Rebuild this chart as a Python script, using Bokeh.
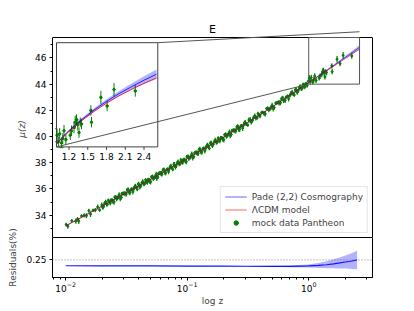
import math
from bokeh.plotting import figure
from bokeh.models import (Range1d, LinearScale, Span, Arrow, Legend, LegendItem, ColumnDataSource,
                          SingleIntervalTicker, FixedTicker, LogTicker, Whisker, TeeHead, Label,
                          LinearAxis)
from bokeh.layouts import column
from bokeh.embed import file_html
from bokeh.resources import INLINE
from bokeh.core.properties import value

FONT = "DejaVu Sans"

# ---------------- data ----------------
z_obs = [0.0101, 0.0104, 0.0112, 0.0121, 0.0125, 0.0128, 0.0135, 0.0142, 0.0148, 0.0155,
         0.016, 0.0168, 0.0175, 0.0183, 0.019, 0.0198, 0.0205, 0.0213, 0.022, 0.0228,
         0.0236, 0.0245, 0.0253, 0.0262, 0.027, 0.0281, 0.029, 0.0302, 0.0315, 0.0326,
         0.0338, 0.035, 0.0362, 0.0375, 0.0388, 0.04, 0.0415, 0.043, 0.0445, 0.046,
         0.0476, 0.049, 0.0508, 0.0525, 0.0545, 0.0562, 0.058, 0.06, 0.062, 0.0642,
         0.0665, 0.0688, 0.071, 0.0735, 0.076, 0.0785, 0.081, 0.084, 0.087, 0.09,
         0.093, 0.0965, 0.0995, 0.103, 0.107, 0.111, 0.115, 0.119, 0.123, 0.127,
         0.132, 0.137, 0.142, 0.147, 0.152, 0.158, 0.164, 0.17, 0.176, 0.182,
         0.189, 0.196, 0.203, 0.21, 0.218, 0.226, 0.234, 0.242, 0.251, 0.26,
         0.27, 0.28, 0.29, 0.30, 0.315, 0.33, 0.345, 0.36, 0.375, 0.39,
         0.41, 0.43, 0.45, 0.47, 0.49, 0.51, 0.535, 0.56, 0.585, 0.61,
         0.64, 0.67, 0.70, 0.73, 0.76, 0.79, 0.82, 0.85, 0.88, 0.91,
         0.94, 0.97, 0.99,
         1.01, 1.03, 1.05, 1.08, 1.10, 1.12, 1.15, 1.22, 1.24, 1.28,
         1.30, 1.32, 1.34, 1.36, 1.38, 1.40, 1.55, 1.56, 1.71, 1.81,
         1.92, 2.26,
         0.0202, 0.0209, 0.0217, 0.0224, 0.0233, 0.0241, 0.025, 0.0258, 0.0267, 0.0275,
         0.0287, 0.0296, 0.0308, 0.0321, 0.0333, 0.0345, 0.0357, 0.0369, 0.0383, 0.0396,
         0.0408, 0.0423, 0.0439, 0.0454, 0.0469, 0.0486, 0.05, 0.0518, 0.0536, 0.0556,
         0.0573, 0.0592, 0.0612, 0.0632, 0.0655, 0.0678, 0.0702, 0.0724, 0.075, 0.0775,
         0.0801, 0.0826, 0.0857, 0.0887, 0.0918, 0.0949, 0.0984, 0.1015, 0.1051, 0.1091,
         0.1132, 0.1173, 0.1214, 0.1255, 0.1295, 0.1346, 0.1397, 0.1448, 0.1499, 0.155,
         0.1612, 0.1673, 0.1734, 0.1795, 0.1856, 0.1928, 0.2, 0.2071, 0.2142, 0.2224,
         0.2305, 0.2387, 0.2468, 0.256, 0.2652, 0.2754, 0.2856, 0.2958, 0.306, 0.3213,
         0.3366, 0.3519, 0.3672, 0.3825, 0.3978, 0.4182, 0.4386, 0.459, 0.4794, 0.4998,
         0.5202, 0.5457, 0.5712, 0.5967, 0.6222, 0.6528, 0.6834, 0.714, 0.7446, 0.7752,
         0.8058, 0.8364, 0.867, 0.8976, 0.9282, 0.9588]
mu_obs = [33.28, 33.14, 33.57, 33.54, 33.69, 33.54, 33.94, 33.98, 33.95, 34.33,
          34.07, 34.37, 34.38, 34.63, 34.39, 34.77, 34.68, 35.00, 34.80, 35.00,
          35.14, 35.03, 35.37, 35.25, 35.38, 35.27, 35.63, 35.65, 35.61, 35.97,
          35.72, 36.00, 35.99, 36.22, 35.97, 36.33, 36.25, 36.56, 36.37, 36.56,
          36.71, 36.57, 36.92, 36.80, 36.95, 36.82, 37.18, 37.19, 37.13, 37.49,
          37.24, 37.52, 37.51, 37.74, 37.49, 37.85, 37.76, 38.08, 37.89, 38.09,
          38.23, 38.12, 38.46, 38.33, 38.49, 38.38, 38.75, 38.76, 38.71, 39.06,
          38.82, 39.11, 39.12, 39.35, 39.10, 39.48, 39.41, 39.73, 39.54, 39.74,
          39.90, 39.79, 40.14, 40.03, 40.19, 40.08, 40.45, 40.46, 40.42, 40.79,
          40.55, 40.84, 40.85, 41.09, 40.88, 41.29, 41.24, 41.58, 41.41, 41.63,
          41.83, 41.75, 42.14, 42.05, 42.23, 42.13, 42.55, 42.60, 42.58, 42.97,
          42.77, 43.09, 43.13, 43.39, 43.17, 43.56, 43.50, 43.83, 43.65, 43.86,
          44.01, 43.90, 44.22,
          44.45, 44.20, 44.50, 44.15, 44.32, 44.62, 44.28, 44.45, 44.62, 44.75,
          44.95, 45.05, 44.85, 44.55, 44.95, 44.88, 45.40, 44.95, 45.90, 45.57,
          46.20, 46.15,
          34.57, 34.90, 34.85, 35.12, 34.93, 35.16, 35.00, 35.38, 35.28, 35.55,
          35.35, 35.67, 35.63, 35.92, 35.73, 35.96, 35.79, 36.18, 36.08, 36.36,
          36.13, 36.46, 36.41, 36.69, 36.50, 36.72, 36.55, 36.94, 36.83, 37.12,
          36.90, 37.22, 37.17, 37.44, 37.25, 37.48, 37.32, 37.70, 37.60, 37.87,
          37.66, 37.98, 37.93, 38.21, 38.02, 38.25, 38.09, 38.48, 38.37, 38.66,
          38.45, 38.79, 38.74, 39.01, 38.82, 39.06, 38.91, 39.30, 39.20, 39.48,
          39.29, 39.62, 39.58, 39.87, 39.67, 39.91, 39.76, 40.16, 40.06, 40.35,
          40.15, 40.48, 40.44, 40.73, 40.54, 40.79, 40.64, 41.04, 40.94, 41.26,
          41.09, 41.46, 41.43, 41.74, 41.57, 41.84, 41.73, 42.15, 42.09, 42.39,
          42.21, 42.58, 42.57, 42.89, 42.73, 43.01, 42.89, 43.31, 43.24, 43.55,
          43.36, 43.71, 43.68, 43.97, 43.79, 44.03]
err_obs = [0.14, 0.18, 0.12, 0.20, 0.16, 0.22, 0.13, 0.17, 0.19, 0.15,
           0.21, 0.12, 0.16, 0.18, 0.14, 0.20, 0.15, 0.17, 0.13, 0.19,
           0.14, 0.18, 0.12, 0.20, 0.16, 0.22, 0.13, 0.17, 0.19, 0.15,
           0.21, 0.12, 0.16, 0.18, 0.14, 0.20, 0.15, 0.17, 0.13, 0.19,
           0.14, 0.18, 0.12, 0.20, 0.16, 0.22, 0.13, 0.17, 0.19, 0.15,
           0.21, 0.12, 0.16, 0.18, 0.14, 0.20, 0.15, 0.17, 0.13, 0.19,
           0.14, 0.18, 0.12, 0.20, 0.16, 0.22, 0.13, 0.17, 0.19, 0.15,
           0.21, 0.12, 0.16, 0.18, 0.14, 0.20, 0.15, 0.17, 0.13, 0.19,
           0.14, 0.18, 0.12, 0.20, 0.16, 0.22, 0.13, 0.17, 0.19, 0.15,
           0.21, 0.12, 0.16, 0.18, 0.14, 0.20, 0.15, 0.17, 0.13, 0.19,
           0.14, 0.18, 0.12, 0.20, 0.16, 0.22, 0.13, 0.17, 0.19, 0.15,
           0.21, 0.12, 0.16, 0.18, 0.14, 0.20, 0.15, 0.17, 0.13, 0.19,
           0.14, 0.18, 0.12,
           0.25, 0.20, 0.22, 0.18, 0.20, 0.22, 0.20, 0.18, 0.20, 0.22,
           0.25, 0.20, 0.22, 0.20, 0.18, 0.20, 0.20, 0.20, 0.25, 0.20,
           0.25, 0.22,
           0.17, 0.13, 0.20, 0.15, 0.18, 0.12, 0.21, 0.16, 0.14, 0.19,
           0.17, 0.13, 0.20, 0.15, 0.18, 0.12, 0.21, 0.16, 0.14, 0.19,
           0.17, 0.13, 0.20, 0.15, 0.18, 0.12, 0.21, 0.16, 0.14, 0.19,
           0.17, 0.13, 0.20, 0.15, 0.18, 0.12, 0.21, 0.16, 0.14, 0.19,
           0.17, 0.13, 0.20, 0.15, 0.18, 0.12, 0.21, 0.16, 0.14, 0.19,
           0.17, 0.13, 0.20, 0.15, 0.18, 0.12, 0.21, 0.16, 0.14, 0.19,
           0.17, 0.13, 0.20, 0.15, 0.18, 0.12, 0.21, 0.16, 0.14, 0.19,
           0.17, 0.13, 0.20, 0.15, 0.18, 0.12, 0.21, 0.16, 0.14, 0.19,
           0.17, 0.13, 0.20, 0.15, 0.18, 0.12, 0.21, 0.16, 0.14, 0.19,
           0.17, 0.13, 0.20, 0.15, 0.18, 0.12, 0.21, 0.16, 0.14, 0.19,
           0.17, 0.13, 0.20, 0.15, 0.18, 0.12]

z_model = [0.01, 0.015, 0.02, 0.03, 0.05, 0.07, 0.1, 0.15, 0.2, 0.3, 0.4, 0.5, 0.6,
           0.7, 0.8, 0.9, 1.0, 1.1, 1.2, 1.4, 1.6, 1.8, 2.0, 2.2, 2.4, 2.6]
mu_lcdm = [33.18, 34.06, 34.70, 35.59, 36.74, 37.50, 38.32, 39.27, 39.96, 40.96, 41.68, 42.26, 42.74,
           43.15, 43.50, 43.82, 44.10, 44.36, 44.59, 45.00, 45.36, 45.68, 45.96, 46.21, 46.44, 46.65]
mu_pade = [33.18, 34.06, 34.70, 35.59, 36.74, 37.50, 38.32, 39.27, 39.96, 40.96, 41.68, 42.26, 42.745,
           43.16, 43.51, 43.835, 44.12, 44.385, 44.62, 45.04, 45.415, 45.75, 46.045, 46.31, 46.56, 46.79]
pade_err = [0.01, 0.01, 0.01, 0.01, 0.01, 0.01, 0.01, 0.01, 0.01, 0.01, 0.012, 0.015, 0.018,
            0.02, 0.023, 0.026, 0.03, 0.035, 0.04, 0.05, 0.065, 0.08, 0.10, 0.12, 0.15, 0.18]

z_res = [0.01, 0.02, 0.05, 0.1, 0.2, 0.3, 0.5, 0.7, 1.0, 1.2, 1.4, 1.6, 1.8, 2.0, 2.2, 2.4, 2.5]
res = [0.2442, 0.2441, 0.2440, 0.2439, 0.2438, 0.2437, 0.2436, 0.2436, 0.2440, 0.2445, 0.2452,
       0.2461, 0.2470, 0.2479, 0.2487, 0.2495, 0.2500]
res_err = [0.0001, 0.0001, 0.0001, 0.0002, 0.0002, 0.0003, 0.0005, 0.0008, 0.0015, 0.0025, 0.0035,
           0.0045, 0.0055, 0.0065, 0.0075, 0.0087, 0.0093]

MAIN_YTICK_STEP = 2
RES_TICKS = [0.25]
RES_REF = 0.25
INSET_XTICKS = [1.2, 1.5, 1.8, 2.1, 2.4]
INSET_XTICK_LABELS = ["1.2", "1.5", "1.8", "2.1", "2.4"]
TITLE = "E"

# ---------------- layout constants ----------------
X_LIM = (10 ** -2.109, 10 ** 0.525)
Y_LIM = (32.29, 47.56)            # the axes box of the main panel
RES_LIM = (0.2325, 0.2723)
INSET_XLIM = (1.0, 2.62)
INSET_YLIM = (44.0, 48.0)
INSET_BOX = (0.0125, 0.453, 0.3165, 0.521)  # left, bottom, width, height (axes fraction)

W = 414
AX_H = 200          # height of the main axes box, px
TOP_PAD = 17        # frame area kept above the axes box (title + connector), px
OVERLAP = 30
RES_FRAME_H = 40
BLUE = "#0000ff"
RED = "#ff0000"
GREEN = "#008000"
GRAY = "#555555"

PX = (Y_LIM[1] - Y_LIM[0]) / AX_H    # data units per px in the main panel
Y_TOP = Y_LIM[1] + TOP_PAD * PX


def style_axis(ax):
    ax.major_label_text_font = FONT
    ax.major_label_text_font_size = "9px"
    ax.major_label_text_color = "black"
    ax.axis_label_text_font = FONT
    ax.axis_label_text_font_size = "9px"
    ax.axis_label_text_font_style = "normal"
    ax.axis_line_color = "black"
    ax.major_tick_line_color = "black"
    ax.minor_tick_line_color = "black"
    ax.major_tick_in = 0
    ax.major_tick_out = 3
    ax.minor_tick_in = 0
    ax.minor_tick_out = 2
    ax.major_label_standoff = 3
    ax.axis_label_standoff = 5


# ---------------- main panel ----------------
p = figure(width=W, height=37 + AX_H - TOP_PAD + TOP_PAD, x_axis_type="log", x_axis_location=None,
           x_range=Range1d(*X_LIM), y_range=Range1d(Y_LIM[0], Y_TOP),
           output_backend="svg", toolbar_location=None,
           min_border_left=52, min_border_right=42, min_border_top=37 - TOP_PAD, min_border_bottom=0)
p.grid.visible = False
p.outline_line_color = None
p.yaxis.ticker = SingleIntervalTicker(interval=MAIN_YTICK_STEP, num_minor_ticks=2)
p.yaxis.bounds = Y_LIM
p.yaxis.axis_label = "μ(z)"
style_axis(p.yaxis[0])
p.yaxis.axis_label_text_font_style = "italic"
right_ax = LinearAxis(bounds=Y_LIM, ticker=FixedTicker(ticks=[], minor_ticks=[]),
                      axis_line_color="black", major_tick_line_color=None,
                      minor_tick_line_color=None, major_label_text_color=None)
p.add_layout(right_ax, "right")
# top edge of the axes box
p.segment(x0=[X_LIM[0]], y0=[Y_LIM[1]], x1=[X_LIM[1]], y1=[Y_LIM[1]], line_color="black",
          line_width=1)
p.add_layout(Label(x=math.sqrt(X_LIM[0] * X_LIM[1]), y=Y_LIM[1] + 8.5 * PX, text=TITLE,
                   text_align="center", text_baseline="middle", text_font=FONT,
                   text_font_size="11px", text_color="black"))

lo_obs = [m - e for m, e in zip(mu_obs, err_obs)]
hi_obs = [m + e for m, e in zip(mu_obs, err_obs)]
obs = ColumnDataSource(dict(z=z_obs, mu=mu_obs, lo=lo_obs, hi=hi_obs))

p.segment(x0="z", y0="lo", x1="z", y1="hi", source=obs, line_color=GREEN, line_width=1.2)
pts = p.scatter("z", "mu", source=obs, marker="circle", size=2, color=GREEN)

plo = [m - e for m, e in zip(mu_pade, pade_err)]
phi = [m + e for m, e in zip(mu_pade, pade_err)]
mod = ColumnDataSource(dict(z=z_model, lcdm=mu_lcdm, pade=mu_pade, plo=plo, phi=phi))
p.varea(x="z", y1="plo", y2="phi", source=mod, fill_color=BLUE, fill_alpha=0.3)
r_pade = p.line("z", "pade", source=mod, line_color=BLUE, line_alpha=0.6, line_width=1)
r_lcdm = p.line("z", "lcdm", source=mod, line_color=RED, line_alpha=0.6, line_width=1)

# indicator rectangle of the zoomed region (clipped to the axes box)
rect_top = min(INSET_YLIM[1], Y_LIM[1])
p.quad(left=[INSET_XLIM[0]], right=[INSET_XLIM[1]], bottom=[INSET_YLIM[0]], top=[rect_top],
       fill_alpha=0, line_color=GRAY, line_width=1)

# legend-only error-bar icon (placed below the visible range, so only the legend shows it)
r_leg = p.scatter(x=[z_obs[0]], y=[Y_LIM[0] - 100], marker="dash", angle=math.pi / 2, size=10,
                  line_color=GREEN, line_width=1.2)

# ---------------- inset (drawn in its own ranges inside the main frame) ----------------
k = (Y_LIM[1] - Y_LIM[0]) / (Y_TOP - Y_LIM[0])
sx = (INSET_XLIM[1] - INSET_XLIM[0]) / INSET_BOX[2]
sy = (INSET_YLIM[1] - INSET_YLIM[0]) / (INSET_BOX[3] * k)
ix0 = INSET_XLIM[0] - INSET_BOX[0] * sx
iy0 = INSET_YLIM[0] - INSET_BOX[1] * k * sy
p.extra_x_ranges = {"ins": Range1d(ix0, ix0 + sx)}
p.extra_y_ranges = {"ins": Range1d(iy0, iy0 + sy)}
p.extra_x_scales = {"ins": LinearScale()}
p.extra_y_scales = {"ins": LinearScale()}
I = dict(x_range_name="ins", y_range_name="ins")

p.quad(left=[INSET_XLIM[0]], right=[INSET_XLIM[1]], bottom=[INSET_YLIM[0]], top=[INSET_YLIM[1]],
       fill_color="white", line_alpha=0, **I)

keep = [i for i, z in enumerate(z_obs) if z >= INSET_XLIM[0]]
obs_in = ColumnDataSource(dict(z=[z_obs[i] for i in keep], mu=[mu_obs[i] for i in keep],
                               lo=[lo_obs[i] for i in keep], hi=[hi_obs[i] for i in keep]))
p.segment(x0="z", y0="lo", x1="z", y1="hi", source=obs_in, line_color=GREEN, line_width=1, **I)
p.scatter("z", "mu", source=obs_in, marker="circle", size=2.5, color=GREEN, **I)
p.add_layout(Whisker(base="z", lower="lo", upper="hi", source=obs_in, dimension="height",
                     line_color=GREEN, line_width=1,
                     upper_head=TeeHead(size=4, line_color=GREEN, line_width=1),
                     lower_head=TeeHead(size=4, line_color=GREEN, line_width=1), **I))

keep_m = [i for i, z in enumerate(z_model) if z >= INSET_XLIM[0]]
mod_in = ColumnDataSource(dict(z=[z_model[i] for i in keep_m], lcdm=[mu_lcdm[i] for i in keep_m],
                               pade=[mu_pade[i] for i in keep_m], plo=[plo[i] for i in keep_m],
                               phi=[phi[i] for i in keep_m]))
p.varea(x="z", y1="plo", y2="phi", source=mod_in, fill_color=BLUE, fill_alpha=0.3, **I)
p.line("z", "pade", source=mod_in, line_color=BLUE, line_alpha=0.8, line_width=1, **I)
p.line("z", "lcdm", source=mod_in, line_color=RED, line_alpha=0.8, line_width=1, **I)

p.quad(left=[INSET_XLIM[0]], right=[INSET_XLIM[1]], bottom=[INSET_YLIM[0]], top=[INSET_YLIM[1]],
       fill_alpha=0, line_color="#404040", line_width=1, **I)
p.ray(x=INSET_XTICKS, y=[INSET_YLIM[0]] * len(INSET_XTICKS), length=3, length_units="screen",
      angle=-math.pi / 2, line_color="#404040", line_width=1, **I)
p.text(x=INSET_XTICKS, y=[INSET_YLIM[0]] * len(INSET_XTICKS), text=INSET_XTICK_LABELS,
       text_align="center", text_baseline="top", y_offset=6, text_font=value(FONT),
       text_font_size="9px", text_color="black", **I)


# connectors from inset corners to the indicator rectangle
def frac_to_main(fx, fy):
    lx0, lx1 = math.log10(X_LIM[0]), math.log10(X_LIM[1])
    return 10 ** (lx0 + fx * (lx1 - lx0)), Y_LIM[0] + fy * (Y_LIM[1] - Y_LIM[0])


tr = frac_to_main(INSET_BOX[0] + INSET_BOX[2], INSET_BOX[1] + INSET_BOX[3])
bl = frac_to_main(INSET_BOX[0], INSET_BOX[1])
p.add_layout(Arrow(end=None, x_start=tr[0], y_start=tr[1], x_end=INSET_XLIM[1], y_end=INSET_YLIM[1],
                   line_color=GRAY, line_width=1))
p.add_layout(Arrow(end=None, x_start=bl[0], y_start=bl[1], x_end=INSET_XLIM[0], y_end=INSET_YLIM[0],
                   line_color=GRAY, line_width=1))

legend = Legend(items=[LegendItem(label="Pade (2,2) Cosmography", renderers=[r_pade]),
                       LegendItem(label="ΛCDM model", renderers=[r_lcdm]),
                       LegendItem(label="mock data Pantheon", renderers=[r_leg, pts])],
                location="bottom_right")
legend.label_text_font = FONT
legend.label_text_font_size = "9px"
legend.glyph_width = 22
legend.glyph_height = 11
legend.label_height = 11
legend.spacing = 2
legend.padding = 4
legend.margin = 4
legend.label_standoff = 5
legend.border_line_color = "#cccccc"
legend.background_fill_alpha = 0.8
p.add_layout(legend)

# ---------------- residual panel (its transparent top border overlaps the main panel) ----------------
r = figure(width=W, height=OVERLAP + RES_FRAME_H + 34, x_axis_type="log", x_range=p.x_range,
           y_range=Range1d(*RES_LIM), output_backend="svg", toolbar_location=None,
           min_border_left=52, min_border_right=42, min_border_top=OVERLAP, min_border_bottom=34,
           styles={"margin-top": f"-{OVERLAP}px"})
r.border_fill_alpha = 0
r.grid.visible = False
r.outline_line_color = "black"
r.xaxis.ticker = LogTicker(mantissas=[1], num_minor_ticks=10)
r.yaxis.ticker = FixedTicker(ticks=RES_TICKS, minor_ticks=[])
r.xaxis.axis_label = "log z"
r.yaxis.axis_label = "Residuals(%)"
style_axis(r.xaxis[0])
style_axis(r.yaxis[0])
r.xaxis.major_label_standoff = 1
r.xaxis.axis_label_standoff = 1

rs = ColumnDataSource(dict(z=z_res, res=res,
                           lo=[a - b for a, b in zip(res, res_err)],
                           hi=[a + b for a, b in zip(res, res_err)]))
r.varea(x="z", y1="lo", y2="hi", source=rs, fill_color=BLUE, fill_alpha=0.3)
r.line("z", "res", source=rs, line_color=BLUE, line_width=1.2, line_alpha=0.9)
r.add_layout(Span(location=RES_REF, dimension="width", line_color="gray", line_dash="1 2",
                  line_width=1))

layout = column(p, r, spacing=0)
open("out.html", "w").write(file_html(layout, INLINE))
